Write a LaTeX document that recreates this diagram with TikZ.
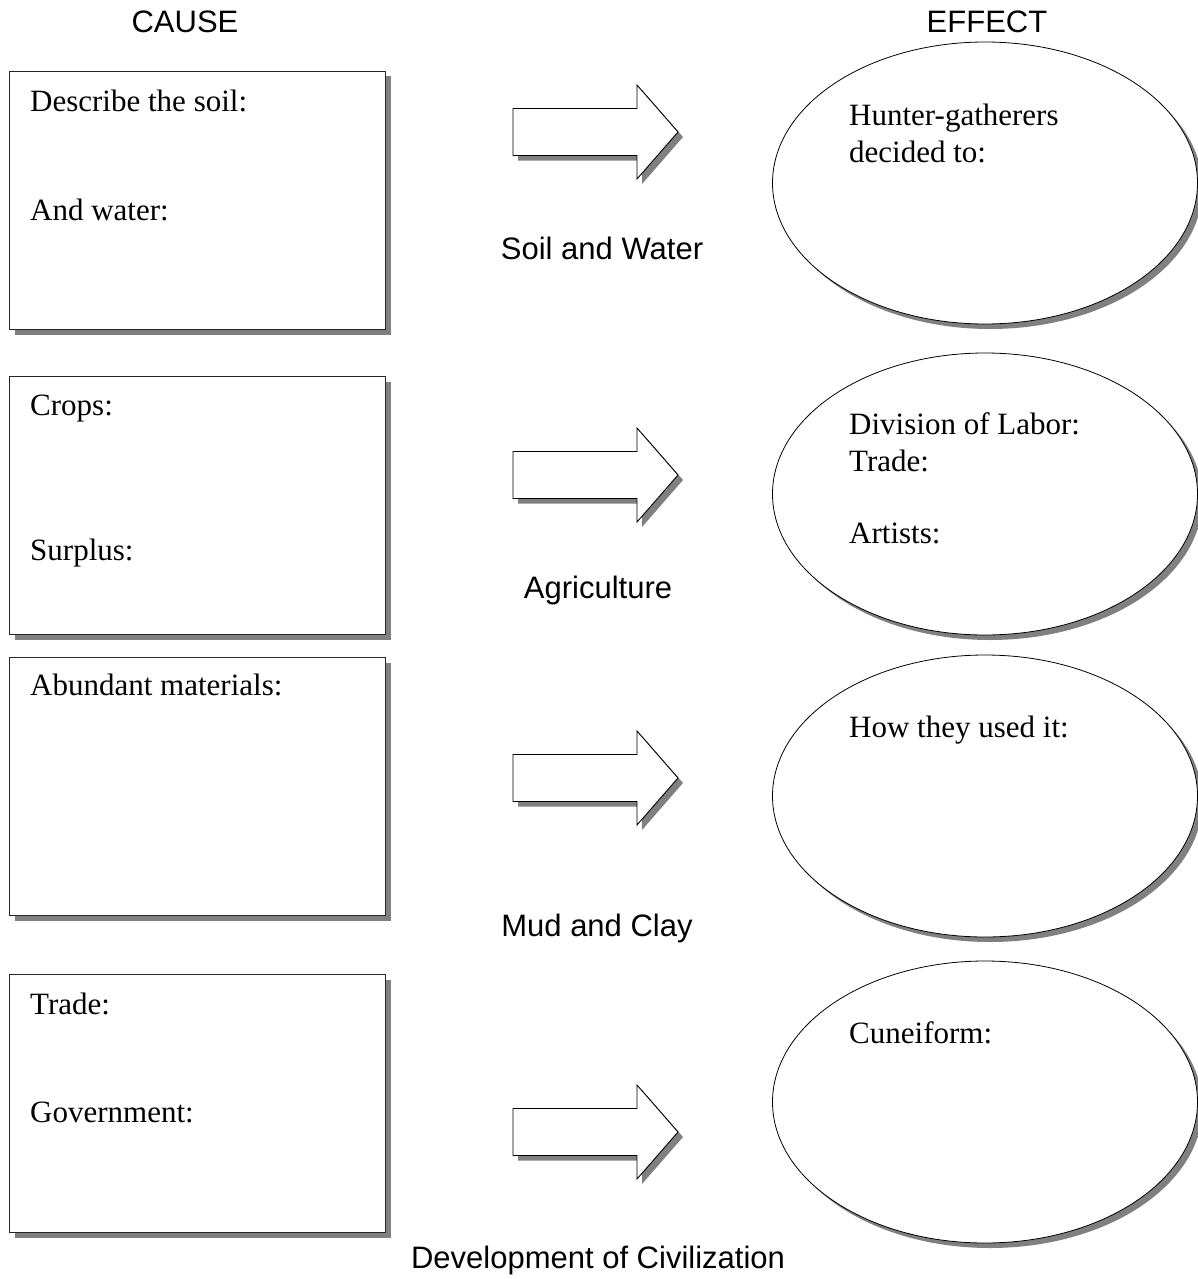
\documentclass[tikz,border=0pt]{standalone}
\usepackage{fontspec}
\setmainfont{Liberation Serif}
\newfontfamily\labelfont{Liberation Sans}
\usetikzlibrary{shapes.geometric,shadows}
\tikzset{
  sh/.style={drop shadow={shadow xshift=5pt, shadow yshift=-5pt, fill=black!50, opacity=1}},
  causebox/.style={draw=black!85, line width=1pt, fill=white, rectangle, inner sep=0pt,
    minimum width=376pt, minimum height=258pt, anchor=north west, sh},
  effectell/.style={draw=black, line width=0.8pt, fill=white, ellipse, inner sep=0pt,
    minimum width=425pt, minimum height=282pt, sh},
  txt/.style={inner sep=0pt, anchor=base west, font=\fontsize{31}{37}\selectfont},
  lbl/.style={inner sep=0pt, anchor=base, font=\labelfont\fontsize{31}{37}\selectfont},
  arrowshade/.style={fill=black!50, draw=none},
  arrowbody/.style={fill=white, draw=black, line width=0.9pt, line join=miter}
}
\newcommand\blockarrow[2]{%
  \begin{scope}[shift={(513,#2)}]
    \fill[arrowshade] (5,-18.5) -- (129,-18.5) -- (129,-42) -- (170,5) -- (129,52) -- (129,28.5) -- (5,28.5) -- cycle;
    \draw[arrowbody] (0,-23.5) -- (124,-23.5) -- (124,-47) -- (165,0) -- (124,47) -- (124,23.5) -- (0,23.5) -- cycle;
    \coordinate (#1) at (82,0);
  \end{scope}}
\begin{document}
\begin{tikzpicture}[x=1pt,y=-1pt]
\useasboundingbox (0,0) rectangle (1198,1279);
\fill[white] (0,0) rectangle (1198,1279);

% headings
\node[lbl] (cause) at (185,33) {CAUSE};
\node[lbl] (effect) at (987,33) {EFFECT};

% cause boxes
\node[causebox] (b1) at (9,71) {};
\node[causebox] (b2) at (9,376) {};
\node[causebox] (b3) at (9,657) {};
\node[causebox] (b4) at (9,974) {};

\node[txt] (b1a) at (30,112) {Describe the soil:};
\node[txt] (b1b) at (30,220) {And water:};
\node[txt] (b2a) at (30,415) {Crops:};
\node[txt] (b2b) at (30,560) {Surplus:};
\node[txt] (b3a) at (30,695) {Abundant materials:};
\node[txt] (b4a) at (30,1014) {Trade:};
\node[txt] (b4b) at (30,1122) {Government:};

% arrows
\blockarrow{a1}{132}
\blockarrow{a2}{475}
\blockarrow{a3}{778}
\blockarrow{a4}{1132}

\node[lbl] (l1) at (602,259) {Soil and Water};
\node[lbl] (l2) at (598,598) {Agriculture};
\node[lbl] (l3) at (597,936) {Mud and Clay};
\node[lbl] (l4) at (598,1268) {Development of Civilization};

% effect ellipses
\node[effectell] (e1) at (985,183) {};
\node[effectell] (e2) at (985,494) {};
\node[effectell] (e3) at (985,796) {};
\node[effectell] (e4) at (985,1102) {};

\node[txt] (e1a) at (849,125) {Hunter-gatherers};
\node[txt] (e1b) at (849,162) {decided to:};
\node[txt] (e2a) at (849,434) {Division of Labor:};
\node[txt] (e2b) at (849,471) {Trade:};
\node[txt] (e2c) at (849,543) {Artists:};
\node[txt] (e3a) at (849,737) {How they used it:};
\node[txt] (e4a) at (849,1043) {Cuneiform:};
\end{tikzpicture}
\end{document}
